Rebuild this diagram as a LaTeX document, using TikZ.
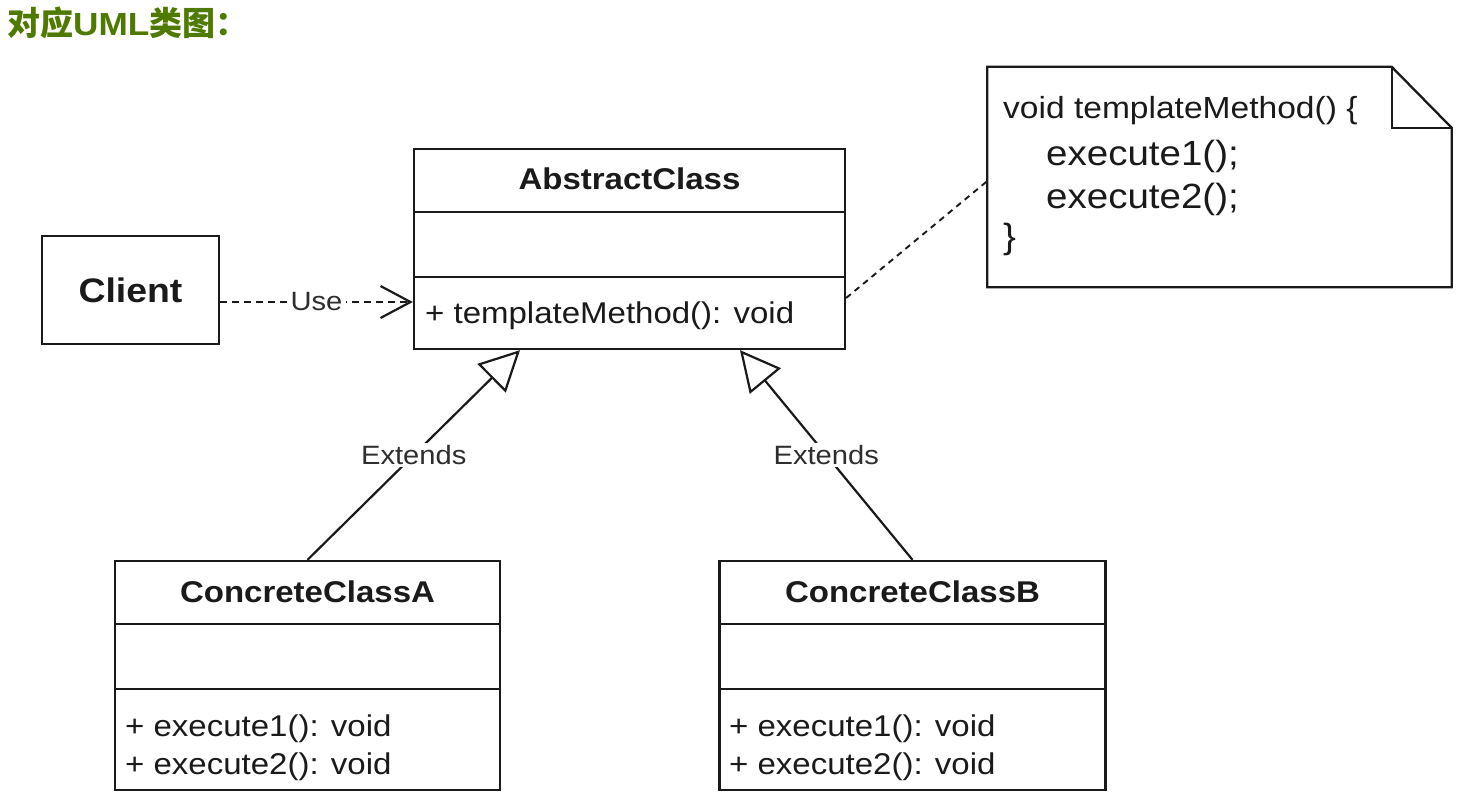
\documentclass[tikz,border=0pt]{standalone}
\usepackage{fontspec}
\setmainfont{Liberation Sans}[FakeStretch=1.1]
\newfontfamily\cjk{Noto Sans CJK SC}
\usetikzlibrary{arrows.meta}
\definecolor{ink}{HTML}{1A1A1A}
\definecolor{lblink}{HTML}{2E2E2E}
\definecolor{olive}{HTML}{4E7A00}
\tikzset{
  cls/.style={draw=ink, line width=2.3pt, fill=white, inner sep=0pt},
  conn/.style={draw=ink, line width=2.2pt},
  divider/.style={draw=ink, line width=2.3pt},
  ttl/.style={font=\fontsize{30}{36}\selectfont\bfseries, text=ink, anchor=base, inner sep=0pt},
  mth/.style={font=\fontsize{30}{36}\selectfont, text=ink, anchor=base west, inner sep=0pt},
  lbl/.style={font=\fontsize{26.5}{30}\selectfont, text=lblink, fill=white, inner sep=2pt},
  notetxt/.style={font=\fontsize{30.5}{36}\selectfont, text=ink, anchor=base west, inner sep=0pt},
  notebig/.style={font=\fontsize{35}{40}\selectfont, text=ink, anchor=base west, inner sep=0pt},
  usedash/.style={dash pattern=on 7pt off 5pt},
  notedash/.style={dash pattern=on 6pt off 5pt},
  inherit/.style={conn, -{Triangle[open, length=40pt, width=40pt, line width=2.2pt]}},
  dependency/.style={conn, usedash, -{Straight Barb[length=30pt, width=32pt, line width=2.2pt]}}
}
\begin{document}
\begin{tikzpicture}[x=1pt, y=-1pt]
\fill[white] (0,0) rectangle (1464,801);
\useasboundingbox (0,0) rectangle (1464,801);

% title
\node[anchor=base west, inner sep=0pt, text=olive, font=\cjk\bfseries\fontsize{33}{36}\selectfont] (title) at (7,35) {对应{\rmfamily\bfseries\fontsize{32}{36}\selectfont UML}类图：};

% AbstractClass
\node[cls, minimum width=431pt, minimum height=200pt] (abs) at (629.5,249) {};
\draw[divider] (414,212) -- (845,212);
\draw[divider] (414,277) -- (845,277);
\node[ttl] (absT) at (629.5,189) {AbstractClass};
\node[mth] (absM) at (425,323) {+ templateMethod(): void};

% Client
\node[cls, minimum width=177pt, minimum height=108pt, font=\fontsize{34}{40}\selectfont\bfseries, text=ink] (client) at (130.5,290) {Client};

% ConcreteClassA
\node[cls, minimum width=385pt, minimum height=229pt] (ca) at (307.5,675.5) {};
\draw[divider] (115,624) -- (500,624);
\draw[divider] (115,689) -- (500,689);
\node[ttl] (caT) at (307.5,602) {ConcreteClassA};
\node[mth] (caM1) at (125,736) {+ execute1(): void};
\node[mth] (caM2) at (125,774) {+ execute2(): void};

% ConcreteClassB
\node[cls, minimum width=386pt, minimum height=229pt] (cb) at (912.5,675.5) {};
\draw[divider] (719.5,624) -- (1105.5,624);
\draw[divider] (719.5,689) -- (1105.5,689);
\node[ttl] (cbT) at (912.5,602) {ConcreteClassB};
\node[mth] (cbM1) at (729,736) {+ execute1(): void};
\node[mth] (cbM2) at (729,774) {+ execute2(): void};

% Note
\node[inner sep=0pt, minimum width=464pt, minimum height=220pt] (note) at (1219.5,177) {};
\draw[conn, line width=2.3pt, fill=white, line join=miter] (note.north west) -- ([xshift=-60pt]note.north east) -- ([yshift=-61pt]note.north east) -- (note.south east) -- (note.south west) -- cycle;
\draw[conn, line width=2.3pt, line join=miter] ([xshift=-60pt]note.north east) -- ([xshift=-60pt, yshift=-61pt]note.north east) -- ([yshift=-61pt]note.north east);
\node[notetxt] (n1) at (1003,118) {void templateMethod() \{};
\node[notebig] (n2) at (1046,165) {execute1();};
\node[notebig] (n3) at (1046,208) {execute2();};
\node[notebig] (n4) at (1003,248) {\}};

% connectors
\coordinate (u1) at ([yshift=-12pt]client.east);
\draw[dependency] (u1) -- (u1 -| abs.west) node[lbl, midway, inner sep=4pt] {Use};

\draw[inherit] (ca.north) -- ([xshift=-109.5pt]abs.south) node[lbl, midway] {Extends};
\draw[inherit] (cb.north) -- ([xshift=110.5pt]abs.south) node[lbl, midway] {Extends};

\draw[conn, line width=1.9pt, notedash] ([yshift=-49pt]abs.east) -- ([yshift=-4pt]note.west);
\end{tikzpicture}
\end{document}
